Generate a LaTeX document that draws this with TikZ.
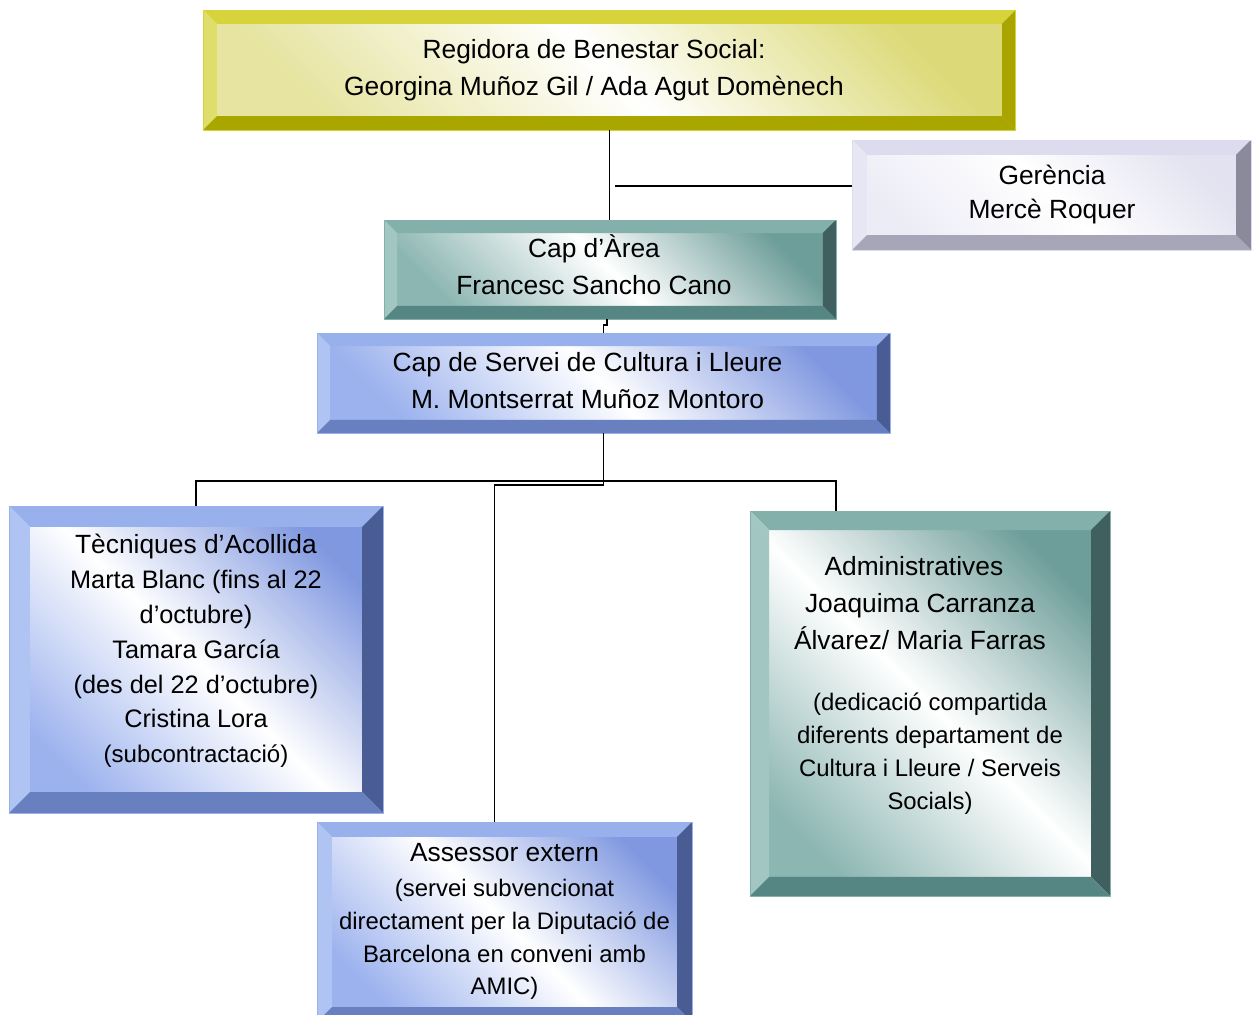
\documentclass[tikz,border=0pt]{standalone}
\usepackage{fontspec}
\setmainfont{Liberation Sans}
\definecolor{ylwT}{HTML}{D6D43A}
\definecolor{ylwL}{HTML}{E0DE6A}
\definecolor{ylwR}{HTML}{A8A400}
\definecolor{ylwB}{HTML}{A9A600}
\definecolor{ylwIn}{HTML}{DCDA78}
\definecolor{ylwIn2}{HTML}{E6E4A0}
\definecolor{grT}{HTML}{DCDCEE}
\definecolor{grL}{HTML}{E6E6F4}
\definecolor{grR}{HTML}{8A8A9A}
\definecolor{grB}{HTML}{A6A6B8}
\definecolor{grIn}{HTML}{E2E2F0}
\definecolor{grIn2}{HTML}{ECECF6}
\definecolor{tlT}{HTML}{84B0AC}
\definecolor{tlL}{HTML}{A2C6C2}
\definecolor{tlR}{HTML}{3F605E}
\definecolor{tlB}{HTML}{568683}
\definecolor{tlIn}{HTML}{6E9E9A}
\definecolor{tlIn2}{HTML}{8CB6B2}
\definecolor{blT}{HTML}{98B0EC}
\definecolor{blL}{HTML}{B0C4F4}
\definecolor{blR}{HTML}{4A5C94}
\definecolor{blB}{HTML}{6880C0}
\definecolor{blIn}{HTML}{8098E0}
\definecolor{blIn2}{HTML}{9CB2EE}
\newcommand\bevels[5]{%
  \fill[#2] (path picture bounding box.north west) -- (path picture bounding box.north east)
    -- ([shift={(-#1,-#1)}]path picture bounding box.north east)
    -- ([shift={(#1,-#1)}]path picture bounding box.north west) -- cycle;
  \fill[#3] (path picture bounding box.north west) -- (path picture bounding box.south west)
    -- ([shift={(#1,#1)}]path picture bounding box.south west)
    -- ([shift={(#1,-#1)}]path picture bounding box.north west) -- cycle;
  \fill[#4] (path picture bounding box.north east) -- (path picture bounding box.south east)
    -- ([shift={(-#1,#1)}]path picture bounding box.south east)
    -- ([shift={(-#1,-#1)}]path picture bounding box.north east) -- cycle;
  \fill[#5] (path picture bounding box.south west) -- (path picture bounding box.south east)
    -- ([shift={(-#1,#1)}]path picture bounding box.south east)
    -- ([shift={(#1,#1)}]path picture bounding box.south west) -- cycle;
}
\tikzset{
  orgbox/.style={rectangle, inner sep=0pt, line width=0.5pt},
  ylwbox/.style={orgbox, draw=ylwT, top color=ylwIn, bottom color=ylwIn2, middle color=white,
    shading angle=-45, path picture={\bevels{#1}{ylwT}{ylwL}{ylwR}{ylwB}}},
  graybox/.style={orgbox, draw=grT, top color=grIn, bottom color=grIn2, middle color=white,
    shading angle=-45, path picture={\bevels{#1}{grT}{grL}{grR}{grB}}},
  tealbox/.style={orgbox, draw=tlT, top color=tlIn, bottom color=tlIn2, middle color=white,
    shading angle=-45, path picture={\bevels{#1}{tlT}{tlL}{tlR}{tlB}}},
  bluebox/.style={orgbox, draw=blT, top color=blIn, bottom color=blIn2, middle color=white,
    shading angle=-45, path picture={\bevels{#1}{blT}{blL}{blR}{blB}}},
  big/.style={align=center, inner sep=0pt, font=\fontsize{15}{21}\selectfont},
  bigtight/.style={align=center, inner sep=0pt, font=\fontsize{15}{19.8}\selectfont},
  small/.style={align=center, inner sep=0pt, font=\fontsize{13.6}{18.7}\selectfont},
  link/.style={line width=1.1pt, black}
}
\newcommand\tecline{\fontsize{14.4}{19.8}\selectfont}
\begin{document}
\begin{tikzpicture}[x=0.02cm, y=-0.02cm]
\useasboundingbox (0,0) rectangle (1257,1014);

\node[ylwbox=7.9pt, minimum width=16.26cm, minimum height=2.4cm] (reg) at (609.5,70) {};
\node[graybox=8.5pt, minimum width=7.98cm, minimum height=2.2cm] (ger) at (1051.5,195) {};
\node[tealbox=7.4pt, minimum width=9.04cm, minimum height=1.98cm] (area) at (610,269.5) {};
\node[bluebox=7.4pt, minimum width=11.46cm, minimum height=2cm] (serv) at (603.5,383) {};
\node[bluebox=11.9pt, minimum width=7.48cm, minimum height=6.14cm] (tec) at (196,659.5) {};
\node[tealbox=10.8pt, minimum width=7.2cm, minimum height=7.7cm] (adm) at (930,703.5) {};
\node[bluebox=8.5pt, minimum width=7.5cm, minimum height=4cm] (ass) at (504.5,922) {};

\node[big] (regtxt) at (594,70.5) {Regidora de Benestar Social:\\Georgina Muñoz Gil / Ada Agut Domènech};
\node[bigtight] (gertxt) at (1052,194.5) {Gerència\\Mercè Roquer};
\node[big] (areatxt) at (594,264.5) {Cap d’Àrea\\Francesc Sancho Cano};
\node[big] (servtxt) at (587.5,380.5) {Cap de Servei de Cultura i Lleure\\M. Montserrat Muñoz Montoro};
\node[bigtight] (tectxt) at (196,651) {Tècniques d’Acollida\\\tecline Marta Blanc (fins al 22\\\tecline d’octubre)\\\tecline Tamara García\\\tecline (des del 22 d’octubre)\\\tecline Cristina Lora\\\fontsize{13.7}{19.8}\selectfont (subcontractació)};
\node[big] (admhead) at (920,603) {Administratives\hspace*{7pt}\\Joaquima Carranza\\Álvarez/ Maria Farras};
\node[small] (admnote) at (930,753.5) {(dedicació compartida\\diferents departament de\\Cultura i Lleure / Serveis\\Socials)};
\node[big] (asshead) at (504.5,853) {Assessor extern};
\node[small] (assnote) at (504.5,939.5) {(servei subvencionat\\directament per la Diputació de\\Barcelona en conveni amb\\AMIC)};

\coordinate (gerjoin) at (615,186);
\coordinate (bus) at (603.5,481);
\draw[link] (reg.south) -- (reg.south |- area.north);
\draw[link] (gerjoin) -- (gerjoin -| ger.west);
\draw[link] ([xshift=-0.06cm]area.south) -- ++(0,6) -| (serv.north);
\draw[link] (serv.south) -- (bus);
\draw[link] (tec.north) |- (bus) -| ([xshift=-1.88cm]adm.north);
\draw[link] (bus) -- ++(0,4) -| ([xshift=-0.2cm]ass.north);
\end{tikzpicture}
\end{document}
